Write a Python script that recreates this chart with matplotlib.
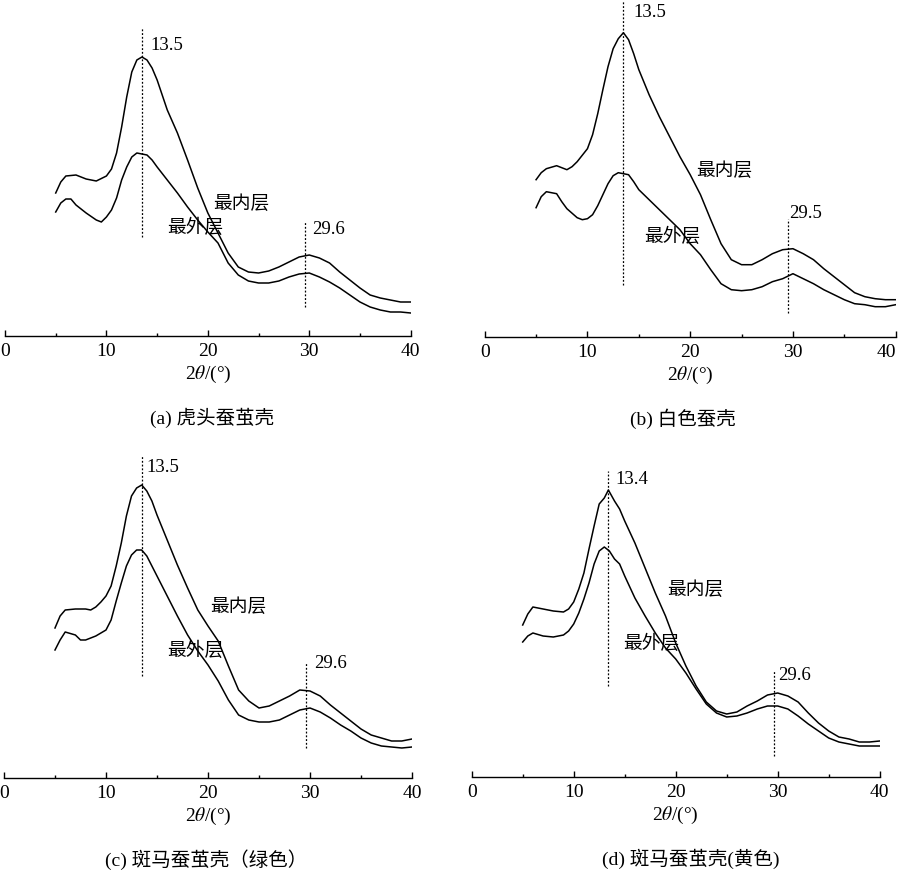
import matplotlib
matplotlib.use("Agg")
import matplotlib.pyplot as plt

plt.rcParams['font.family'] = ['Liberation Serif', 'Noto Sans CJK SC', 'DejaVu Sans']
plt.rcParams['mathtext.fontset'] = 'stix'

# ---------------- data (intensity, a.u.) ----------------
# panel (a) 虎头蚕茧壳
a_x = [5, 5.5, 6, 7, 8, 9, 10, 10.5, 11, 11.5, 12, 12.5, 13, 13.5, 14, 14.5, 15,
       16, 17, 18, 19, 20, 21, 22, 23, 24, 25, 26, 27, 28, 29, 30, 31, 32, 33,
       34, 35, 36, 37, 38, 39, 40]
a_inner = [143, 154, 160, 161, 157, 155, 160, 167, 183, 209, 239, 264, 276, 279, 276, 268, 256,
           226, 203, 176, 148, 123, 103, 83, 69, 64, 63, 65, 69, 74, 79, 81, 78, 73, 64,
           56, 48, 41, 38, 36, 34, 34]
a_outer_x = [5, 5.5, 6, 6.5, 7, 8, 9, 9.5, 10, 10.5, 11, 11.5, 12, 12.5, 13, 13.5, 14, 14.5, 15,
             16, 17, 18, 19, 20, 21, 22, 23, 24, 25, 26, 27, 28, 29, 30, 31, 32, 33,
             34, 35, 36, 37, 38, 39, 40]
a_outer = [124, 133, 137, 137, 131, 123, 116, 114, 119, 126, 138, 156, 169, 179, 183, 182, 181, 176, 169,
           156, 143, 129, 116, 104, 93, 73, 61, 55, 53, 53, 55, 59, 62, 63, 59, 54, 48,
           41, 34, 29, 26, 24, 24, 23]

# panel (b) 白色蚕壳
b_inner_x = [5, 5.5, 6, 7, 8, 8.5, 9, 10, 10.5, 11, 11.5, 12, 12.5, 13, 13.5, 14, 14.5, 15,
             16, 17, 18, 19, 20, 21, 22, 23, 24, 25, 26, 27, 28, 29, 30, 31, 32, 33,
             34, 35, 36, 37, 38, 39, 40]
b_inner = [157, 164, 168, 171, 167, 170, 175, 188, 202, 223, 247, 270, 288, 298, 304, 297, 283, 267,
           242, 220, 200, 180, 162, 142, 117, 93, 77, 72, 72, 77, 83, 87, 88, 83, 77, 68,
           60, 52, 44, 40, 38, 37, 37]
b_outer_x = [5, 5.5, 6, 7, 7.5, 8, 9, 9.5, 10, 10.5, 11, 11.5, 12, 12.5, 13, 13.5, 14, 14.5, 15,
             16, 17, 18, 19, 20, 21, 22, 23, 24, 25, 26, 27, 28, 29, 30, 31, 32, 33,
             34, 35, 36, 37, 38, 39, 40]
b_outer = [129, 140, 145, 143, 135, 128, 119, 117, 118, 122, 131, 142, 153, 161, 164, 163, 162, 155, 147,
           137, 127, 117, 107, 93, 82, 67, 53, 47, 46, 47, 50, 55, 58, 63, 58, 53, 47,
           42, 37, 33, 32, 30, 30, 32]

# panel (c) 斑马蚕茧壳（绿色）
c_inner_x = [5, 5.5, 6, 7, 8, 8.5, 9, 9.5, 10, 10.5, 11, 11.5, 12, 12.5, 13, 13.5, 14, 14.5, 15,
             16, 17, 18, 19, 20, 21, 22, 23, 24, 25, 26, 27, 28, 29, 30, 31, 32, 33,
             34, 35, 36, 37, 38, 39, 40]
c_inner = [150, 162, 168, 169, 169, 168, 171, 176, 182, 192, 212, 235, 262, 282, 290, 293, 287, 277, 263,
           238, 213, 190, 168, 152, 137, 112, 88, 77, 70, 72, 77, 82, 88, 87, 82, 73, 65,
           57, 49, 43, 40, 37, 37, 39]
c_outer_x = [5, 5.5, 6, 7, 7.5, 8, 9, 10, 10.5, 11, 11.5, 12, 12.5, 13, 13.5, 14, 14.5, 15,
             16, 17, 18, 19, 20, 21, 22, 23, 24, 25, 26, 27, 28, 29, 30, 31, 32, 33,
             34, 35, 36, 37, 38, 39, 40]
c_outer = [128, 138, 146, 143, 138, 138, 142, 148, 158, 177, 195, 212, 223, 228, 228, 222, 212, 202,
           182, 162, 143, 127, 113, 97, 78, 63, 58, 56, 56, 58, 63, 68, 70, 66, 60, 53,
           47, 40, 35, 32, 31, 30, 31]

# panel (d) 斑马蚕茧壳(黄色)
d_inner_x = [5, 5.5, 6, 7, 8, 9, 9.5, 10, 10.5, 11, 11.5, 12, 12.5, 13, 13.4, 14, 14.5, 15,
             16, 17, 18, 19, 20, 21, 22, 23, 24, 25, 26, 27, 28, 29, 30, 31, 32, 33,
             34, 35, 36, 37, 38, 39, 40]
d_inner = [152, 163, 170, 168, 166, 165, 168, 175, 188, 204, 228, 251, 273, 279, 287, 276, 268, 256,
           234, 209, 184, 161, 134, 111, 91, 75, 66, 63, 65, 71, 76, 82, 84, 81, 75, 64,
           54, 46, 40, 38, 35, 35, 36]
d_outer_x = [5, 5.5, 6, 7, 8, 9, 9.5, 10, 10.5, 11, 11.5, 12, 12.5, 13, 13.5, 14, 14.5, 15,
             16, 17, 18, 19, 20, 21, 22, 23, 24, 25, 26, 27, 28, 29, 30, 31, 32, 33,
             34, 35, 36, 37, 38, 39, 40]
d_outer = [135, 141, 144, 141, 140, 142, 146, 153, 164, 178, 194, 213, 226, 230, 226, 218, 213, 201,
           179, 161, 144, 129, 118, 104, 88, 73, 64, 60, 61, 64, 68, 71, 71, 68, 61, 53,
           46, 39, 35, 33, 31, 31, 31]

# peak markers
peaks_a = [13.5, 29.6]
peaks_b = [13.5, 29.5]
peaks_c = [13.5, 29.6]
peaks_d = [13.4, 29.6]
peak_labels_a = ['13.5', '29.6']
peak_labels_b = ['13.5', '29.5']
peak_labels_c = ['13.5', '29.6']
peak_labels_d = ['13.4', '29.6']

captions = ['(a) 虎头蚕茧壳', '(b) 白色蚕壳', '(c) 斑马蚕茧壳（绿色）', '(d) 斑马蚕茧壳(黄色)']
inner_label = '最内层'
outer_label = '最外层'
xticks = [0, 10, 20, 30, 40]
minor_xticks = [5, 15, 25, 35]

# ---------------- layout ----------------
W, H = 900, 873
fig = plt.figure(figsize=(W / 100, H / 100), dpi=100)

# (left px, right px, spine px, top px)
boxes = [(5, 410.7, 336, 0), (484.7, 895.7, 336.7, 0),
         (4, 412, 778, 443), (471.7, 879.7, 777, 443)]
caption_cx = [212, 683, 206, 691]

panels = [
    (a_x, a_inner, a_outer_x, a_outer, peaks_a, peak_labels_a,
     [(27, 237), (222, 307)], [(14.3, 291), (30.3, 107)], (20.5, 133), (16.0, 109)),
    (b_inner_x, b_inner, b_outer_x, b_outer, peaks_b, peak_labels_b,
     [(0, 285), (219, 313)], [(14.44, 324), (29.6, 123)], (20.6, 166), (15.5, 100)),
    (c_inner_x, c_inner, c_outer_x, c_outer, peaks_c, peak_labels_c,
     [(456, 676), (662, 748)], [(14.0, 310), (30.4, 114)], (20.2, 172), (16.0, 128)),
    (d_inner_x, d_inner, d_outer_x, d_outer, peaks_d, peak_labels_d,
     [(471, 686), (671, 756)], [(14.05, 297), (30.0, 102)], (19.15, 188), (14.8, 134)),
]

for i, (box, p) in enumerate(zip(boxes, panels)):
    left, right, spine, top = box
    (xi, yi, xo, yo, pk, pkl, vl, lblpos, inpos, outpos) = p
    hpx = spine - top
    ax = fig.add_axes([left / W, (H - spine) / H, (right - left) / W, hpx / H])
    ax.set_xlim(0, 40)
    ax.set_ylim(0, hpx)
    ax.plot(xi, yi, color='black', lw=1.1)
    ax.plot(xo, yo, color='black', lw=1.1)
    for xpk, (ytop, ybot) in zip(pk, vl):
        ax.plot([xpk, xpk], [spine - ybot, spine - ytop], color='black', lw=0.9,
                linestyle=(0, (1.5, 1.5)))
    for lab, (tx, ty) in zip(pkl, lblpos):
        ax.text(tx, ty, lab, ha='left', va='center', fontsize=13.5)
    ax.text(inpos[0], inpos[1], inner_label, ha='left', va='center', fontsize=13.5,
            family=['Noto Sans CJK SC'])
    ax.text(outpos[0], outpos[1], outer_label, ha='left', va='center', fontsize=13.5,
            family=['Noto Sans CJK SC'])
    for s in ['left', 'right', 'top']:
        ax.spines[s].set_visible(False)
    ax.spines['bottom'].set_linewidth(1.0)
    ax.set_yticks([])
    ax.set_xticks(xticks)
    ax.set_xticks(minor_xticks, minor=True)
    ax.tick_params(axis='x', which='major', direction='in', length=4.5, width=1.0,
                   labelsize=14, pad=5)
    ax.tick_params(axis='x', which='minor', direction='in', length=2.5, width=1.0)
    if i == 1:
        ax.get_xticklabels()[-1].set_horizontalalignment('right')
    ax.patch.set_alpha(0)
    ax.set_xlabel('2$\\mathit{\\theta}$/(°)', fontsize=14, labelpad=3)
    fig.text(caption_cx[i] / W, (H - (spine + 82)) / H, captions[i], ha='center', va='center',
             fontsize=14)

fig.savefig('out.png', dpi=100)
